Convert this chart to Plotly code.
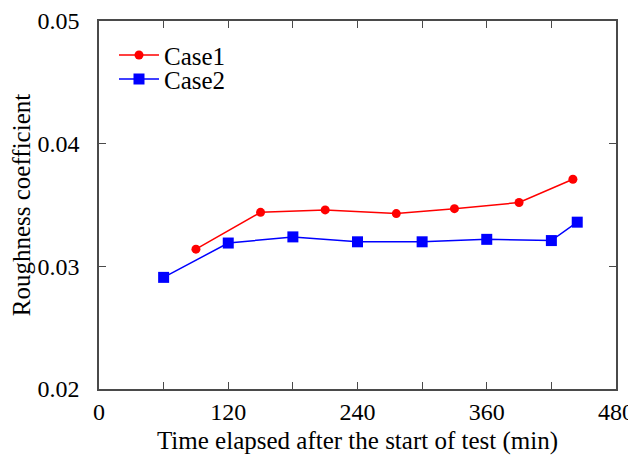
import plotly.graph_objects as go

case1_x = [90, 150, 210, 276, 330, 390, 440]
case1_y = [0.0314, 0.0344, 0.0346, 0.0343, 0.0347, 0.0352, 0.0371]
case2_x = [60, 120, 180, 240, 300, 360, 420, 444]
case2_y = [0.0291, 0.0319, 0.0324, 0.0320, 0.0320, 0.0322, 0.0321, 0.0336]

x_ticks = [0, 120, 240, 360, 480]
y_ticks = [0.02, 0.03, 0.04, 0.05]

FONT = "Liberation Serif, Times New Roman, serif"
AXC = "#4a4a4a"

fig = go.Figure()
fig.add_trace(go.Scatter(x=case1_x, y=case1_y, name="Case1", mode="lines+markers",
                         line=dict(color="#ff0000", width=1.5),
                         marker=dict(symbol="circle", size=9, color="#ff0000"),
                         legend="legend"))
fig.add_trace(go.Scatter(x=case2_x, y=case2_y, name="Case2", mode="lines+markers",
                         line=dict(color="#0000ff", width=1.5),
                         marker=dict(symbol="square", size=11, color="#0000ff"),
                         legend="legend2"))

leg_common = dict(xanchor="left", yanchor="middle", bgcolor="rgba(0,0,0,0)",
                  font=dict(family=FONT, size=25, color="black"), itemwidth=40)

# page body has an 8px default margin, so the figure is 8px smaller
fig.update_layout(
    width=628, height=454,
    margin=dict(l=91, r=20, t=13, b=73),
    paper_bgcolor="white", plot_bgcolor="white",
    font=dict(family=FONT, size=24, color="black"),
    showlegend=True,
    legend=dict(x=0.029, y=0.907, **leg_common),
    legend2=dict(x=0.029, y=0.842, **leg_common),
)
fig.update_xaxes(
    range=[0, 480], tickvals=x_ticks, ticktext=[str(v) for v in x_ticks],
    showgrid=False, zeroline=False, showline=True, mirror="allticks",
    linecolor=AXC, linewidth=1.5, ticks="inside", ticklen=7, tickcolor=AXC, tickwidth=1.2,
    minor=dict(dtick=60, ticks="inside", ticklen=7, tickcolor=AXC, tickwidth=1.2, showgrid=False),
    title=dict(text="Time elapsed after the start of test (min)", standoff=8,
               font=dict(family=FONT, size=25)),
    tickfont=dict(family=FONT, size=24), automargin=False,
)
fig.update_yaxes(
    range=[0.02, 0.05], tickvals=y_ticks, ticktext=["%.2f" % v for v in y_ticks],
    showgrid=False, zeroline=False, showline=True, mirror="allticks",
    linecolor=AXC, linewidth=1.5, ticks="inside", ticklen=7, tickcolor=AXC, tickwidth=1.2,
    title=dict(text="Roughness coefficient", standoff=1,
               font=dict(family=FONT, size=25)),
    tickfont=dict(family=FONT, size=24), ticklabelstandoff=13, automargin=False,
)

fig.write_html("out.html")
